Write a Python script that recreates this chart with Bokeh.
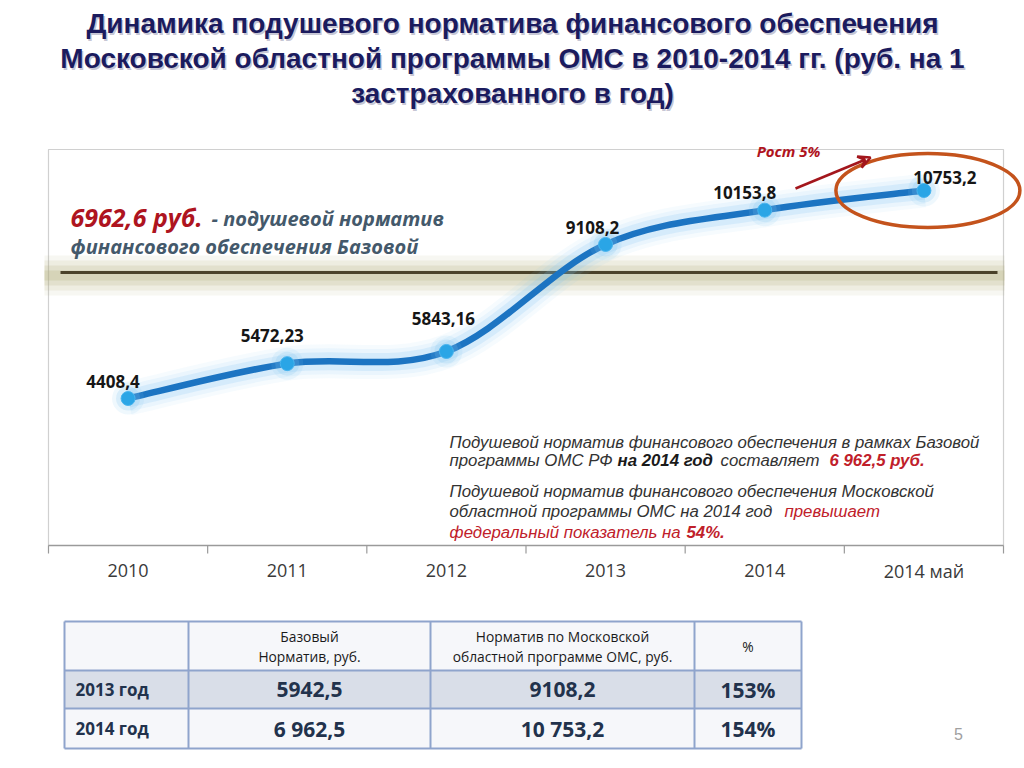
from bokeh.plotting import figure
from bokeh.models import Range1d, ColumnDataSource, Arrow, VeeHead
from bokeh.core.properties import value
from bokeh.transform import dodge
from bokeh.embed import file_html
from bokeh.resources import INLINE

# ---------------- data ----------------
years = ["2010", "2011", "2012", "2013", "2014", "2014 май"]
norm_values = [4408.4, 5472.23, 5843.16, 9108.2, 10153.8, 10753.2]

title_lines = [
    "Динамика подушевого норматива финансового обеспечения",
    "Московской областной программы ОМС в 2010-2014 гг. (руб. на 1",
    "застрахованного в год)",
]
base_norm_label = "6962,6 руб."
growth_label = "Рост 5%"

table_header_col2 = ["Базовый", "Норматив, руб."]
table_header_col3 = ["Норматив по Московской", "областной программе ОМС, руб."]
table_header_col4 = ["%"]
table_rows = ["2013  год", "2014 год"]
table_base = ["5942,5", "6 962,5"]
table_mos = ["9108,2", "10 753,2"]
table_pct = ["153%", "154%"]

# ---------------- figure (layout in pixel coords + chart ranges) ----------------
W, H = 1024, 768
p = figure(width=W, height=H, output_backend="svg", toolbar_location=None,
           x_range=Range1d(0, W), y_range=Range1d(H, 0),
           x_axis_location=None, y_axis_location=None, min_border=0)
p.outline_line_color = None
p.grid.visible = False
p.background_fill_color = "white"
p.border_fill_color = "white"

p.extra_x_ranges = {"cx": Range1d(-0.8015, 5.6319)}
p.extra_y_ranges = {"cy": Range1d(-6878.0, 16549.0)}
CH = dict(x_range_name="cx", y_range_name="cy")

n = len(years)
idx = list(range(n))

# title
for dx, dy, col, a in [(1.5, 1.5, "#7f7f9f", 0.45), (0, 0, "#1b1b5e", 1.0)]:
    p.text(x=[W / 2] * 3, y=[23, 58, 93], text=title_lines, x_offset=dx, y_offset=dy,
           text_font=value("Liberation Sans"), text_font_style="bold", text_font_size="28px",
           text_color=col, text_alpha=a, text_align="center", text_baseline="middle")

# chart box
p.quad(left=[-0.5], right=[5.5], top=[149], bottom=[545], fill_color=None,
       line_color="#d0d0d0", line_width=1.2, x_range_name="cx")

# base norm line with soft shadow
for lw, a in [(40, 0.10), (30, 0.14), (20, 0.2), (10, 0.25)]:
    p.segment(x0=[44], x1=[1004], y0=[275], y1=[275], line_color="#b5ae7c",
              line_width=lw, line_alpha=a)
p.segment(x0=[60], x1=[997], y0=[272], y1=[272], line_color="#4a4228", line_width=3.2)

# smooth curve through the values (Catmull-Rom as cubic Beziers)
bx = dict(x0=[], y0=[], x1=[], y1=[], cx0=[], cy0=[], cx1=[], cy1=[])
for i in range(n - 1):
    i0 = max(i - 1, 0)
    i3 = min(i + 2, n - 1)
    bx["x0"].append(idx[i]); bx["y0"].append(norm_values[i])
    bx["x1"].append(idx[i + 1]); bx["y1"].append(norm_values[i + 1])
    bx["cx0"].append(idx[i] + (idx[i + 1] - idx[i0]) / 6)
    bx["cy0"].append(norm_values[i] + (norm_values[i + 1] - norm_values[i0]) / 6)
    bx["cx1"].append(idx[i + 1] - (idx[i3] - idx[i]) / 6)
    bx["cy1"].append(norm_values[i + 1] - (norm_values[i3] - norm_values[i]) / 6)
bsrc = ColumnDataSource(bx)
for lw, a in [(34, 0.07), (26, 0.1), (18, 0.18)]:
    p.bezier(x0="x0", y0="y0", x1="x1", y1="y1", cx0="cx0", cy0="cy0", cx1="cx1", cy1="cy1",
             source=bsrc, line_color="#7cc2f2", line_width=lw, line_alpha=a, **CH)
p.bezier(x0="x0", y0="y0", x1="x1", y1="y1", cx0="cx0", cy0="cy0", cx1="cx1", cy1="cy1",
         source=bsrc, line_color="#1c74c2", line_width=6.5, **CH)

# points
for s, a in [(32, 0.12), (24, 0.2)]:
    p.scatter(idx, norm_values, size=s, fill_color="#7cc2f2", fill_alpha=a, line_color=None, **CH)
p.scatter(idx, norm_values, size=14, fill_color="#2aa5e6", line_color="#48b4ee", line_width=1, **CH)

# value labels
lbl_dx = [-15, -15, -3, -13, -20, 21]
lbl_dy = [-17, -28, -33, -17, -18, -13]
p.text(x=idx, y=norm_values, text=[str(v).replace(".", ",") for v in norm_values],
       x_offset=lbl_dx, y_offset=lbl_dy,
       text_font=value("Open Sans"), text_font_style="bold", text_font_size="17px",
       text_color="#161616", text_align="center", text_baseline="middle", **CH)

# x axis (category axis with ticks between categories)
p.segment(x0=[-0.5], x1=[5.5], y0=[545], y1=[545], line_color="#9a9a9a", line_width=1.5,
          x_range_name="cx")
p.segment(x0=[i - 0.5 for i in range(n + 1)], x1=[i - 0.5 for i in range(n + 1)],
          y0=[545] * (n + 1), y1=[553] * (n + 1), line_color="#9a9a9a", line_width=1.2,
          x_range_name="cx")
p.text(x=idx, y=[570] * n, text=years, text_font=value("Open Sans"), text_font_size="18px",
       text_color="#3a3a3a", text_align="center", text_baseline="middle", x_range_name="cx")

# left annotation about base norm
p.text(x=[70], y=[216], text=[base_norm_label], text_font=value("Open Sans"),
       text_font_style="bold italic", text_font_size="25px", text_color="#ae1420",
       text_baseline="middle")
p.text(x=[211, 70], y=[218, 246], text=["- подушевой норматив", "финансового обеспечения Базовой"],
       text_font=value("Open Sans"), text_font_style="bold italic", text_font_size="20px",
       text_color="#44596b", text_baseline="middle")

# highlight of last value and growth arrow
esrc = ColumnDataSource(dict(x=[idx[-1]], y=[norm_values[-1]]))
p.ellipse(x=dodge("x", 0.025, range=p.extra_x_ranges["cx"]), y="y", source=esrc,
          width=184, height=74, width_units="screen", height_units="screen",
          fill_color=None, line_color="#c4531c", line_width=3.5, **CH)
p.add_layout(Arrow(end=VeeHead(size=12, line_color="#a3161c", line_width=2.5, fill_color=None),
                   x_start=795, y_start=188, x_end=870, y_end=157,
                   line_color="#a3161c", line_width=2.5))
p.text(x=[788], y=[150], text=[growth_label], text_font=value("Open Sans"),
       text_font_style="bold italic", text_font_size="15px", text_color="#b0141e",
       text_align="center", text_baseline="middle")

# paragraph text
PF = dict(text_font=value("Liberation Sans"), text_font_size="16.8px", text_baseline="middle")
dark, red = "#333333", "#c0202a"
p.text(x=[449, 449, 449, 449], y=[442, 460, 491, 511],
       text=["Подушевой норматив финансового обеспечения в рамках Базовой",
             "программы ОМС РФ",
             "Подушевой норматив финансового обеспечения Московской",
             "областной программы ОМС  на 2014 год"],
       text_font_style="italic", text_color=dark, **PF)
p.text(x=[617], y=[460], text=["на 2014 год"], text_font_style="bold italic", text_color="#1a1a1a", **PF)
p.text(x=[720], y=[460], text=["составляет"], text_font_style="italic", text_color=dark, **PF)
p.text(x=[829], y=[460], text=["6 962,5 руб."], text_font_style="bold italic", text_color=red, **PF)
p.text(x=[784, 449], y=[511, 532], text=["превышает", "федеральный показатель на"],
       text_font_style="italic", text_color=red, **PF)
p.text(x=[686], y=[532], text=["54%."], text_font_style="bold italic", text_color=red, **PF)

# table
cols = [64, 188, 430, 694, 801]
rows = [621, 670, 708, 748]
p.quad(left=[cols[0]] * 3, right=[cols[-1]] * 3, top=rows[:3], bottom=rows[1:],
       fill_color=["#f6f7fa", "#d9dee8", "#f6f7fa"], line_color=None)
p.segment(x0=[cols[0]] * 4, x1=[cols[-1]] * 4, y0=rows, y1=rows, line_color="#8fa4cc", line_width=2)
p.segment(x0=cols, x1=cols, y0=[rows[0]] * 5, y1=[rows[-1]] * 5, line_color="#8fa4cc", line_width=2)
centers = [(cols[i] + cols[i + 1]) / 2 for i in range(4)]
TF = dict(text_font=value("Open Sans"), text_align="center", text_baseline="middle")
p.text(x=[centers[1]] * 2, y=[636, 656], text=table_header_col2, text_font_size="13.8px",
       text_color="#1a1a1a", **TF)
p.text(x=[centers[2]] * 2, y=[636, 656], text=table_header_col3, text_font_size="13.8px",
       text_color="#1a1a1a", **TF)
p.text(x=[centers[3]], y=[646], text=table_header_col4, text_font_size="13.8px",
       text_color="#1a1a1a", **TF)
row_y = [(rows[1] + rows[2]) / 2, (rows[2] + rows[3]) / 2]
p.text(x=[75, 75], y=row_y, text=table_rows, text_font=value("Open Sans"), text_font_style="bold",
       text_font_size="17px", text_color="#22324c", text_baseline="middle")
for c, vals in [(centers[1], table_base), (centers[2], table_mos), (centers[3], table_pct)]:
    p.text(x=[c] * 2, y=row_y, text=vals, text_font_style="bold", text_font_size="21px",
           text_color="#22324c", **TF)

# page number
p.text(x=[958], y=[733], text=["5"], text_font=value("Liberation Sans"), text_font_size="16px",
       text_color="#a0a0a0", text_align="center", text_baseline="middle")

open("out.html", "w").write(file_html(p, INLINE))
